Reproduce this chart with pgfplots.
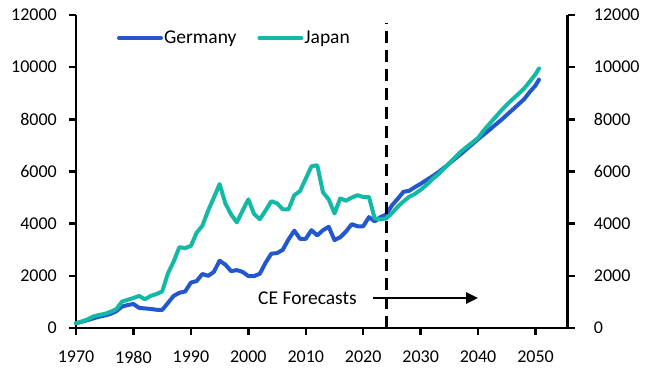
\documentclass[border=0pt]{standalone}
\usepackage{pgfplots}
\pgfplotsset{compat=1.18}
\usepackage{pgfplotstable}
\usepackage{fontspec}
\setmainfont{Carlito}
\usetikzlibrary{arrows.meta}
\definecolor{deu}{RGB}{34,87,205}
\definecolor{jpn}{RGB}{20,185,165}

\pgfplotstableread{
year val
1970 180
1971 240
1972 300
1973 370
1974 430
1975 480
1976 540
1977 640
1978 820
1979 880
1980 920
1981 770
1982 750
1983 730
1984 700
1985 690
1986 960
1987 1230
1988 1350
1989 1400
1990 1740
1991 1800
1992 2070
1993 2000
1994 2150
1995 2580
1996 2430
1997 2180
1998 2220
1999 2150
2000 1990
2001 1990
2002 2080
2003 2500
2004 2850
2005 2870
2006 3000
2007 3400
2008 3730
2009 3420
2010 3420
2011 3750
2012 3550
2013 3750
2014 3880
2015 3370
2016 3480
2017 3700
2018 3980
2019 3900
2020 3900
2021 4250
2022 4090
2023 4250
2024 4350
2025 4700
2026 4950
2027 5220
2028 5260
2029 5400
2030 5530
2031 5670
2032 5810
2033 5960
2034 6130
2035 6310
2036 6490
2037 6670
2038 6860
2039 7050
2040 7240
2041 7420
2042 7600
2043 7790
2044 7970
2045 8170
2046 8370
2047 8570
2048 8770
2049 9050
2050 9300
2050.6 9520
}\germany

\pgfplotstableread{
year val
1970 180
1971 250
1972 330
1973 440
1974 500
1975 540
1976 620
1977 720
1978 1010
1979 1080
1980 1150
1981 1230
1982 1100
1983 1230
1984 1300
1985 1400
1986 2090
1987 2550
1988 3100
1989 3060
1990 3150
1991 3650
1992 3920
1993 4500
1994 5000
1995 5520
1996 4780
1997 4350
1998 4050
1999 4500
2000 4930
2001 4370
2002 4170
2003 4500
2004 4860
2005 4780
2006 4550
2007 4550
2008 5090
2009 5250
2010 5730
2011 6200
2012 6240
2013 5200
2014 4930
2015 4390
2016 4970
2017 4880
2018 5000
2019 5090
2020 5020
2021 5020
2022 4200
2023 4160
2024 4200
2025 4400
2026 4650
2027 4850
2028 5030
2029 5140
2030 5300
2031 5480
2032 5700
2033 5880
2034 6100
2035 6320
2036 6540
2037 6760
2038 6940
2039 7110
2040 7290
2041 7580
2042 7830
2043 8080
2044 8330
2045 8560
2046 8770
2047 8970
2048 9180
2049 9450
2050 9730
2050.6 9950
}\japan

\pgfplotsset{
  common/.style={
    at={(0pt,0pt)}, anchor=south west,
    scale only axis, width=491.7pt, height=313pt,
    xmin=1970, xmax=2055.6, ymin=0, ymax=12000,
    axis line style={line width=2.5pt, -},
    tick style={line width=2.5pt, black},
    major tick length=7pt, tick align=outside,
    xtick={1970,1980,...,2050}, ytick={0,2000,...,12000},
    ticklabel style={font=\fontsize{18}{20}\selectfont, text=black},
    /pgf/number format/assume math mode=true,
    /pgf/number format/1000 sep={},
    scaled y ticks=false, scaled x ticks=false,
    clip=false,
  }
}

\begin{document}
\begin{tikzpicture}
\path[use as bounding box] (-76pt,-51pt) rectangle (572pt,328pt);
\begin{axis}[
  common,
  axis x line*=bottom, axis y line*=left,
  yticklabel style={inner sep=0pt, xshift=-12pt},
  xticklabel style={inner sep=0pt, yshift=-16pt},
  legend style={at={(0.0834,0.9265)}, anchor=west, draw=none, fill=none,
    inner sep=0pt, outer sep=0pt,
    font=\fontsize{19.5}{22}\selectfont,
    nodes={inner sep=1pt},
    /tikz/every even column/.append style={column sep=20pt}},
  legend columns=2,
  legend image code/.code={\draw[#1, line cap=round] (0pt,0pt) -- (42pt,0pt);},
]
\addplot[deu, line width=4pt, line cap=round, line join=round] table[x=year,y=val] {\germany};
\addlegendentry{Germany}
\addplot[jpn, line width=4pt, line cap=round, line join=round] table[x=year,y=val] {\japan};
\addlegendentry{Japan}
\draw[black, line width=3pt, dash pattern=on 12pt off 7pt] (axis cs:2024,0) -- (axis cs:2024,11700);
\draw[black, line width=2.5pt, -{Triangle[length=12pt,width=11pt]}] (axis cs:2021.7,1150) -- (axis cs:2040,1150);
\node[anchor=east, inner sep=0pt, font=\fontsize{19.5}{22}\selectfont] at ([xshift=-16pt]axis cs:2021.7,1150) {CE Forecasts};
\end{axis}
\begin{axis}[
  common,
  axis x line=none, axis y line*=right,
  yticklabel style={inner sep=0pt, xshift=19pt},
]
\end{axis}
\end{tikzpicture}
\end{document}
